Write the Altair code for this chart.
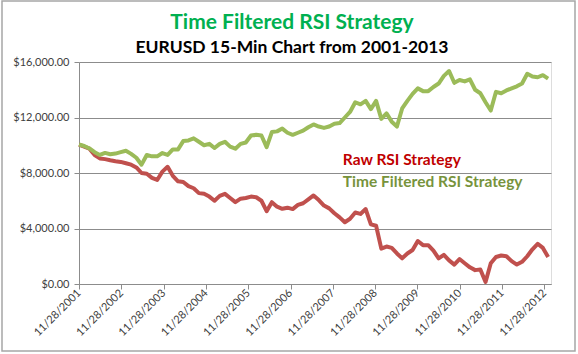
import altair as alt
import pandas as pd

# Sample dates (every 45 days from 11/28/2001)
dates = pd.date_range("2001-11-28", periods=91, freq="45D").strftime("%Y-%m-%d").tolist()

raw_rsi = [
    10050, 9900, 9750, 9300, 9050, 9000, 8920, 8850, 8800, 8700,
    8600, 8400, 8000, 7950, 7650, 7500, 8100, 8450, 7800, 7400,
    7350, 7050, 6900, 6550, 6500, 6300, 6000, 6350, 6500, 6200,
    5900, 6150, 6200, 6300, 6250, 6000, 5250, 5900, 5570, 5420,
    5500, 5400, 5700, 5820, 6100, 6380, 6050, 5650, 5450, 5100,
    4800, 4450, 4700, 5150, 5050, 5400, 4300, 4200, 2550, 2700,
    2600, 2200, 1850, 2200, 2450, 3100, 2800, 2800, 2400, 1850,
    2100, 1700, 1400, 1800, 1500, 1200, 1000, 1050, 150, 1500,
    1950, 2050, 2000, 1650, 1400, 1600, 2000, 2500, 2900, 2600,
    1950,
]

time_filtered = [
    10050, 9950, 9770, 9500, 9300, 9450, 9350, 9400, 9500, 9600,
    9380, 9100, 8600, 9300, 9200, 9200, 9440, 9300, 9700, 9700,
    10300, 10350, 10500, 10250, 10000, 10100, 9800, 10100, 10250, 9900,
    9750, 10100, 10200, 10700, 10750, 10700, 9870, 10950, 11000, 11200,
    10900, 10750, 10900, 11050, 11300, 11500, 11350, 11250, 11350, 11550,
    11600, 12000, 12400, 13100, 12950, 13200, 12600, 13200, 11900, 12300,
    11700, 11350, 12650, 13200, 13700, 14100, 13900, 13900, 14200, 14450,
    15000, 15350, 14500, 14700, 14600, 14750, 14000, 13750, 13100, 12500,
    13850, 13750, 13950, 14100, 14250, 14450, 15150, 14950, 14900, 15050,
    14800,
]

series_names = ["Raw RSI Strategy", "Time Filtered RSI Strategy"]
line_colors = ["#C0504D", "#9BBB59"]
text_colors = ["#C00000", "#77933C"]

tick_years = list(range(2001, 2013))
y_ticks = list(range(0, 16001, 2000))

# in-plot legend label anchors (date, value)
label_dates = ["2008-02-23", "2008-02-23"]
label_values = [8950, 7350]

df = pd.DataFrame({
    "date": dates * 2,
    "value": raw_rsi + time_filtered,
    "series": [series_names[0]] * len(dates) + [series_names[1]] * len(dates),
})
labels_df = pd.DataFrame({"date": label_dates, "value": label_values,
                          "label": series_names, "color": text_colors})

x_scale = alt.Scale(domain=[alt.DateTime(year=2001, month=11, date=28),
                            alt.DateTime(year=2013, month=1, date=24)])
y_scale = alt.Scale(domain=[0, 16000], nice=False)

base_font = "Lato"

lines = alt.Chart(df).mark_line(strokeWidth=4, strokeJoin="round").encode(
    x=alt.X("date:T", scale=x_scale, title=None,
            axis=alt.Axis(values=[alt.DateTime(year=y, month=11, date=28) for y in tick_years],
                          format="%m/%d/%Y", labelAngle=-45,
                          labelAlign="right", labelBaseline="middle", labelPadding=2,
                          grid=False, domainColor="#8c8c8c", tickColor="#8c8c8c",
                          tickSize=5, labelFont=base_font, labelFontSize=11,
                          labelColor="#404040", labelOverlap=False)),
    y=alt.Y("value:Q", scale=y_scale, title=None,
            axis=alt.Axis(values=y_ticks, format="$,.2f", grid=True, gridColor="#8c8c8c",
                          domainColor="#8c8c8c", tickColor="#8c8c8c", tickSize=5,
                          labelFont=base_font, labelFontSize=11, labelColor="#404040",
                          labelPadding=5)),
    color=alt.Color("series:N", scale=alt.Scale(domain=series_names, range=line_colors), legend=None),
    order=alt.Order("series:N"),
)

texts = alt.Chart(labels_df).mark_text(align="left", baseline="middle", font=base_font,
                                       fontSize=15.5, fontWeight="bold").encode(
    x=alt.X("date:T", scale=x_scale),
    y=alt.Y("value:Q", scale=y_scale),
    text="label:N",
    color=alt.Color("color:N", scale=None),
)

frame = alt.Chart(pd.DataFrame({"a": [0]})).mark_rect(filled=False, stroke="#a6a6a6", strokeWidth=1.5).encode(
    x=alt.value(-77), x2=alt.value(496), y=alt.value(-61), y2=alt.value(289)
)

chart = alt.layer(frame, lines, texts).properties(
    width=472, height=222,
    padding={"left": 79, "top": 62, "right": 27, "bottom": 70},
    autosize=alt.AutoSizeParams(type="none"),
    title=alt.TitleParams(
        text="Time Filtered RSI Strategy",
        subtitle="EURUSD 15-Min Chart from 2001-2013",
        color="#00B050", subtitleColor="#000000",
        font=base_font, subtitleFont=base_font,
        fontSize=21, subtitleFontSize=17.5,
        fontWeight="bold", subtitleFontWeight="bold",
        anchor="middle", frame="group", dx=-23, offset=-56, subtitlePadding=6,
    ),
).configure_view(stroke=None).configure(background="white")

chart.save("out.html", embed_options={"renderer": "svg", "actions": False})
